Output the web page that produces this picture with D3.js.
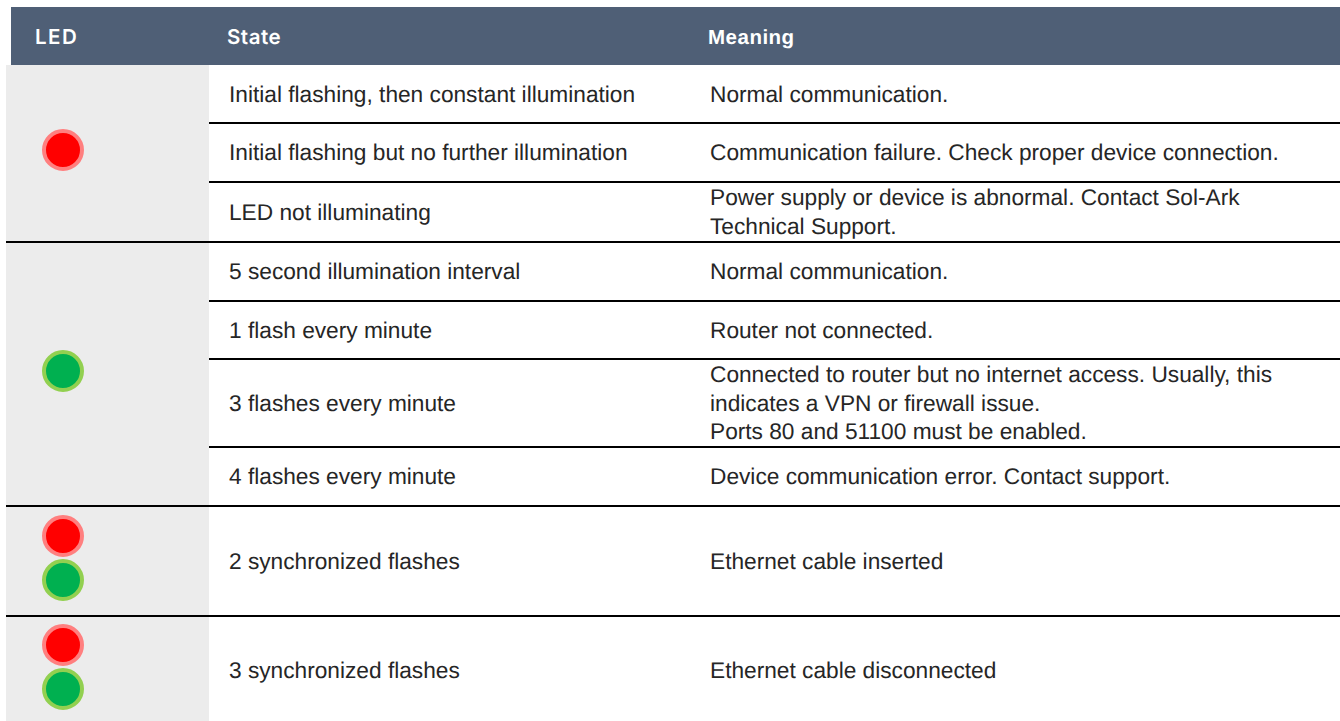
<!DOCTYPE html>
<html>
<head>
<meta charset="utf-8">
<script src="https://cdn.jsdelivr.net/npm/d3@7/dist/d3.min.js"></script>
<style>
  html, body { margin: 0; padding: 0; background: #fff; overflow: hidden; }
  text { font-family: "Liberation Sans", Arial, sans-serif; text-rendering: geometricPrecision; }
</style>
</head>
<body>
<script>
// table content
var columns = ["LED", "State", "Meaning"];
var states = [
    "Initial flashing, then constant illumination",
    "Initial flashing but no further illumination",
    "LED not illuminating",
    "5 second illumination interval",
    "1 flash every minute",
    "3 flashes every minute",
    "4 flashes every minute",
    "2 synchronized flashes",
    "3 synchronized flashes"
];
var meanings = [
    ["Normal communication."],
    ["Communication failure. Check proper device connection."],
    ["Power supply or device is abnormal. Contact Sol-Ark", "Technical Support."],
    ["Normal communication."],
    ["Router not connected."],
    ["Connected to router but no internet access. Usually, this", "indicates a VPN or firewall issue.", "Ports 80 and 51100 must be enabled."],
    ["Device communication error. Contact support."],
    ["Ethernet cable inserted"],
    ["Ethernet cable disconnected"]
];
// LED groups: how many rows each one spans and which lamps it shows
var groupSpans = [3, 4, 1, 1];
var groupLeds = [["red"], ["green"], ["red", "green"], ["red", "green"]];

// layout
var width = 1340, height = 721;
var rowEdges = [65, 123, 182, 242, 301, 359, 447, 506, 616, 725];
var ledCentres = [150, 371, 558, 667];
var headX = [35, 227, 708];
var headFont = ["Inter", "Inter", "Liberation Sans"];
var headSpacing = [1.5, 0.5, 0.5];
var columnX = {state: 229, meaning: 710};
var bodySize = 22.7, lineGap = 28.5;

var ledFill = {red: "#ff0000", green: "#00b050"};
var ledRing = {red: "#ff7f7f", green: "#92d050"};

var svg = d3.select("body").append("svg")
    .attr("width", width)
    .attr("height", height)
    .style("display", "block");

// header band
svg.append("rect")
    .attr("x", 11).attr("y", 7)
    .attr("width", width - 11).attr("height", 58)
    .attr("fill", "#4f5f76");

svg.selectAll("text.head").data(columns).enter().append("text")
    .attr("class", "head")
    .attr("x", function(d, i) { return headX[i]; })
    .attr("y", 44)
    .attr("fill", "#ffffff")
    .attr("font-size", 20.5)
    .style("font-family", function(d, i) { return headFont[i]; })
    .style("font-weight", function(d, i) { return i < 2 ? 600 : 700; })
    .style("letter-spacing", function(d, i) { return headSpacing[i] + "px"; })
    .text(function(d) { return d; });

// grey LED column
svg.append("rect")
    .attr("x", 6).attr("y", 65)
    .attr("width", 203).attr("height", height - 65)
    .attr("fill", "#ececec");

// state column
svg.selectAll("text.state").data(states).enter().append("text")
    .attr("class", "state")
    .attr("x", columnX.state)
    .attr("y", function(d, i) { return (rowEdges[i] + rowEdges[i + 1]) / 2 + 7.5; })
    .attr("font-size", bodySize)
    .attr("fill", "#262626")
    .text(function(d) { return d; });

// meaning column, some cells wrap over several lines
var meaningCells = svg.selectAll("g.meaning").data(meanings).enter().append("g")
    .attr("class", "meaning");

meaningCells.selectAll("text")
    .data(function(lines, i) {
        return lines.map(function(line, j) {
            var mid = (rowEdges[i] + rowEdges[i + 1]) / 2;
            return {text: line, y: mid + 7.5 + (j - (lines.length - 1) / 2) * lineGap};
        });
    })
    .enter().append("text")
    .attr("x", columnX.meaning)
    .attr("y", function(d) { return d.y; })
    .attr("font-size", bodySize)
    .attr("fill", "#262626")
    .text(function(d) { return d.text; });

// rules under the rows; a rule that closes a LED group also crosses the grey column
var groupEnds = d3.cumsum(groupSpans);
svg.selectAll("line.rule").data(rowEdges.slice(1, -1)).enter().append("line")
    .attr("class", "rule")
    .attr("x1", function(d, i) { return groupEnds.indexOf(i + 1) >= 0 ? 6 : 209; })
    .attr("x2", width)
    .attr("y1", function(d) { return d; })
    .attr("y2", function(d) { return d; })
    .attr("stroke", "#000000")
    .attr("stroke-width", 2);

// LED lamps
var ledX = 63, ledGap = 44;
var groups = svg.selectAll("g.led").data(groupLeds).enter().append("g")
    .attr("class", "led")
    .attr("transform", function(d, i) {
        return "translate(" + ledX + "," + ledCentres[i] + ")";
    });

groups.selectAll("circle")
    .data(function(d) {
        return d.map(function(color, j) { return {color: color, offset: (j - (d.length - 1) / 2) * ledGap}; });
    })
    .enter().append("circle")
    .attr("cy", function(d) { return d.offset; })
    .attr("r", 19)
    .attr("fill", function(d) { return ledFill[d.color]; })
    .attr("stroke", function(d) { return ledRing[d.color]; })
    .attr("stroke-width", 4);
</script>
</body>
</html>
